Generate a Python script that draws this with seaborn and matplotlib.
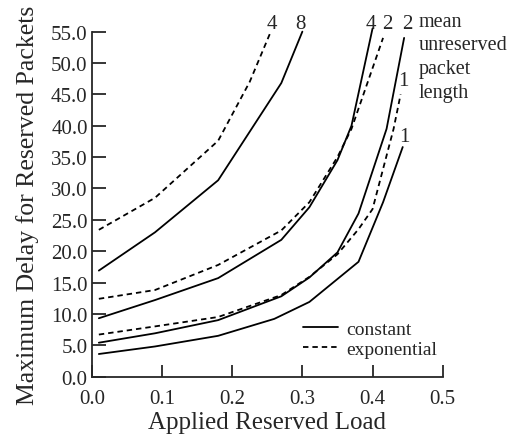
import matplotlib
matplotlib.use('Agg')
import matplotlib.pyplot as plt
import seaborn as sns
import pandas as pd

# constant (solid) curves, mean unreserved packet length 8, 4, 2, 1
const_8_load = [0.01, 0.09, 0.18, 0.27, 0.30]
const_8_delay = [16.9, 23.0, 31.3, 46.8, 55.0]
const_4_load = [0.01, 0.09, 0.18, 0.27, 0.31, 0.35, 0.37, 0.40]
const_4_delay = [9.3, 12.2, 15.7, 21.8, 27.0, 34.5, 40.0, 55.5]
const_2_load = [0.01, 0.09, 0.18, 0.27, 0.31, 0.35, 0.38, 0.42, 0.445]
const_2_delay = [5.4, 6.9, 9.0, 12.8, 15.8, 19.8, 26.0, 39.5, 54.0]
const_1_load = [0.01, 0.09, 0.18, 0.26, 0.31, 0.38, 0.415, 0.443]
const_1_delay = [3.6, 4.8, 6.5, 9.2, 11.9, 18.3, 27.8, 36.6]

# exponential (dashed) curves, length 4, 2, 1
exp_4_load = [0.01, 0.09, 0.18, 0.225, 0.255]
exp_4_delay = [23.4, 28.5, 37.6, 47.0, 55.0]
exp_2_load = [0.01, 0.09, 0.18, 0.27, 0.31, 0.35, 0.37, 0.415]
exp_2_delay = [12.4, 13.8, 17.8, 23.3, 27.8, 35.0, 39.5, 54.0]
exp_1_load = [0.01, 0.09, 0.18, 0.27, 0.31, 0.35, 0.38, 0.40, 0.43, 0.44]
exp_1_delay = [6.7, 8.0, 9.5, 13.0, 15.9, 19.5, 23.5, 26.7, 39.5, 45.0]

# curve labels (text, load, delay)
label_text = ['4', '8', '4', '2', '2', '1', '1']
label_load = [0.256, 0.297, 0.397, 0.421, 0.449, 0.444, 0.446]
label_delay = [56.3, 56.3, 56.3, 56.3, 56.3, 47.2, 38.2]

x_ticks = [0.0, 0.1, 0.2, 0.3, 0.4, 0.5]
y_ticks = [0, 5, 10, 15, 20, 25, 30, 35, 40, 45, 50, 55]

sns.set_style('ticks')
plt.rcParams['font.family'] = ['Liberation Serif', 'DejaVu Serif']

fig = plt.figure(figsize=(5.13, 4.35), dpi=100)
ax = fig.add_axes([0.179, 0.132, 0.684, 0.793])

solid = [(const_8_load, const_8_delay), (const_4_load, const_4_delay),
         (const_2_load, const_2_delay), (const_1_load, const_1_delay)]
dashed = [(exp_4_load, exp_4_delay), (exp_2_load, exp_2_delay),
          (exp_1_load, exp_1_delay)]

for i, (xs, ys) in enumerate(solid):
    df = pd.DataFrame({'load': xs, 'delay': ys})
    sns.lineplot(data=df, x='load', y='delay', ax=ax, color='black', lw=1.3,
                 sort=False, label='constant' if i == 0 else None)
for i, (xs, ys) in enumerate(dashed):
    df = pd.DataFrame({'load': xs, 'delay': ys})
    sns.lineplot(data=df, x='load', y='delay', ax=ax, color='black', lw=1.3,
                 sort=False, label='exponential' if i == 0 else None)
for line in ax.lines[4:]:
    line.set_dashes([3, 2.2])
for line in ax.lines:
    line.set_clip_on(False)

for t, x, y in zip(label_text, label_load, label_delay):
    ax.text(x, y, t, fontsize=15, ha='center', va='center', clip_on=False)

ax.text(0.466, 58.2, 'mean\nunreserved\npacket\nlength', fontsize=14.5,
        ha='left', va='top', linespacing=1.35, clip_on=False)

ax.set_xlim(0, 0.5)
ax.set_ylim(0, 55)
ax.set_xticks(x_ticks)
ax.set_xticklabels([f'{v:.1f}' for v in x_ticks])
ax.set_yticks(y_ticks)
ax.set_yticklabels([f'{v:.1f}' for v in y_ticks])
ax.tick_params(axis='y', direction='in', length=10, width=1.3, pad=3, labelsize=15)
ax.tick_params(axis='x', direction='in', length=9, width=1.3, pad=9, labelsize=15)
sns.despine(ax=ax)
for s in ['left', 'bottom']:
    ax.spines[s].set_linewidth(1.3)

ax.set_xlabel('Applied Reserved Load', fontsize=18, labelpad=2)
ax.set_ylabel('Maximum Delay for Reserved Packets', fontsize=18.5, labelpad=9)

leg = ax.legend(loc='lower left', bbox_to_anchor=(0.575, 0.027), frameon=False,
                fontsize=14, handlelength=1.8, handletextpad=0.4,
                labelspacing=0.1, borderpad=0)
for h in leg.get_lines():
    h.set_color('black')
    h.set_linewidth(1.3)
leg.get_lines()[1].set_dashes([3, 2.2])

fig.savefig('out.png', dpi=100)
